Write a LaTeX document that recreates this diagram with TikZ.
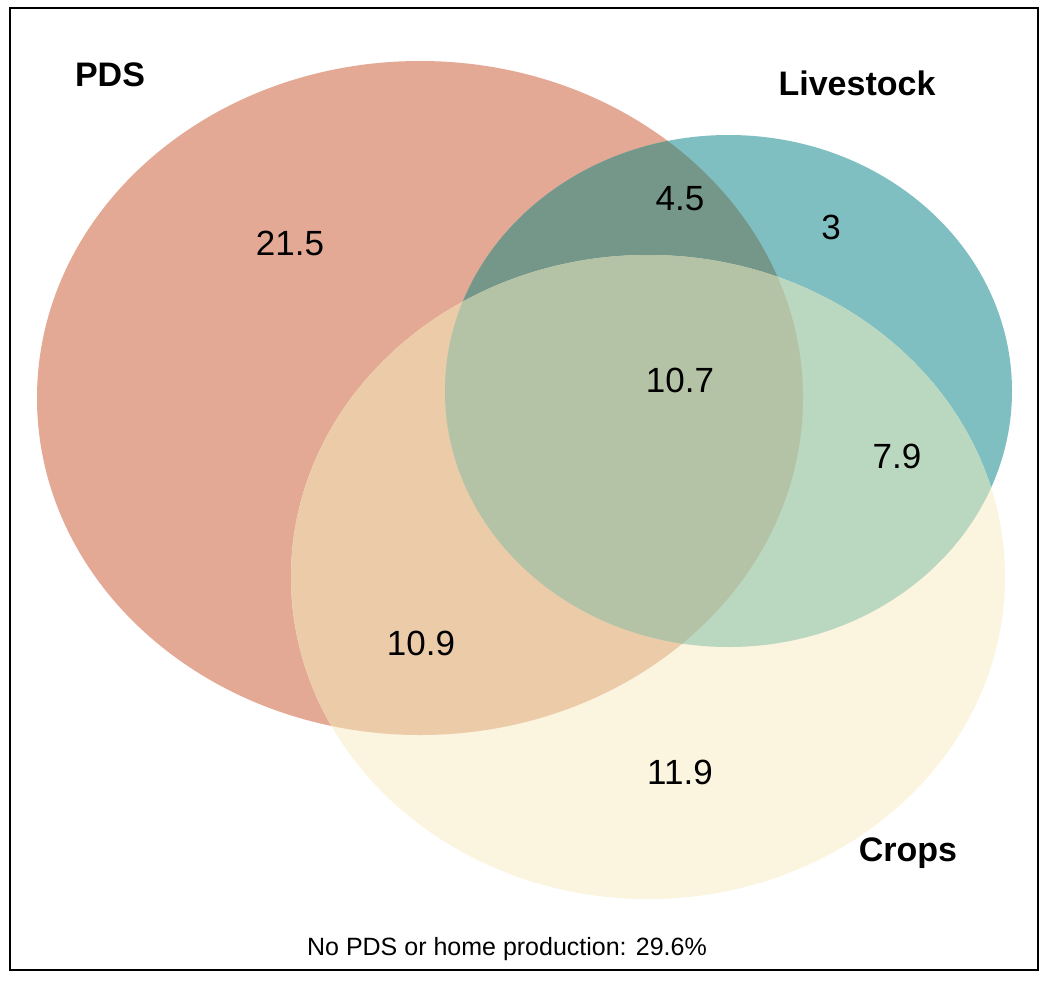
\documentclass[tikz,border=0pt]{standalone}
\usepackage{fontspec}
\setmainfont{Liberation Sans}
\definecolor{pdscol}{HTML}{E3A994}
\definecolor{livcol}{HTML}{80BFC1}
\definecolor{cropcol}{HTML}{FBF4DE}
\definecolor{pdslivcol}{HTML}{74978A}
\definecolor{pdscropcol}{HTML}{ECCBA9}
\definecolor{livcropcol}{HTML}{BAD7C0}
\definecolor{allcol}{HTML}{B4C2A6}
\tikzset{
  setlabel/.style={font=\bfseries\fontsize{34}{40}\selectfont, anchor=base, inner sep=0pt},
  numlabel/.style={font=\fontsize{35}{40}\selectfont, anchor=base, inner sep=0pt},
  notelabel/.style={font=\fontsize{25}{30}\selectfont, anchor=base, inner sep=0pt},
}
\def\pdspath{(420,398) ellipse [x radius=383pt, y radius=337pt]}
\def\livpath{(728.5,391) ellipse [x radius=283.5pt, y radius=256pt]}
\def\croppath{(648,577) ellipse [x radius=357pt, y radius=322pt]}
\begin{document}
\begin{tikzpicture}[x=1pt,y=-1pt]
\useasboundingbox (0,0) rectangle (1050,983);
\fill[white] (0,0) rectangle (1050,983);
% single sets
\fill[pdscol] \pdspath;
\fill[livcol] \livpath;
\fill[cropcol] \croppath;
% pairwise overlaps
\begin{scope}
  \clip \pdspath;
  \fill[pdslivcol] \livpath;
  \fill[pdscropcol] \croppath;
\end{scope}
\begin{scope}
  \clip \livpath;
  \fill[livcropcol] \croppath;
\end{scope}
% triple overlap
\begin{scope}
  \clip \pdspath;
  \clip \livpath;
  \fill[allcol] \croppath;
\end{scope}
% frame
\draw[line width=2.5pt] (10,8) rectangle (1038,970);
% set labels
\node[setlabel] (pdsl) at (110,86) {PDS};
\node[setlabel] (livl) at (857,95) {Livestock};
\node[setlabel] (cropl) at (908,861) {Crops};
% region values
\node[numlabel] (vpds) at (290,255) {21.5};
\node[numlabel] (vpl) at (680,210) {4.5};
\node[numlabel] (vliv) at (831,239) {3};
\node[numlabel] (vall) at (680,392) {10.7};
\node[numlabel] (vlc) at (897,468) {7.9};
\node[numlabel] (vpc) at (421,655) {10.9};
\node[numlabel] (vcrop) at (680,784) {11.9};
\node[notelabel] (note) at (507,955) {No PDS or home production: 29.6\%};
\end{tikzpicture}
\end{document}
